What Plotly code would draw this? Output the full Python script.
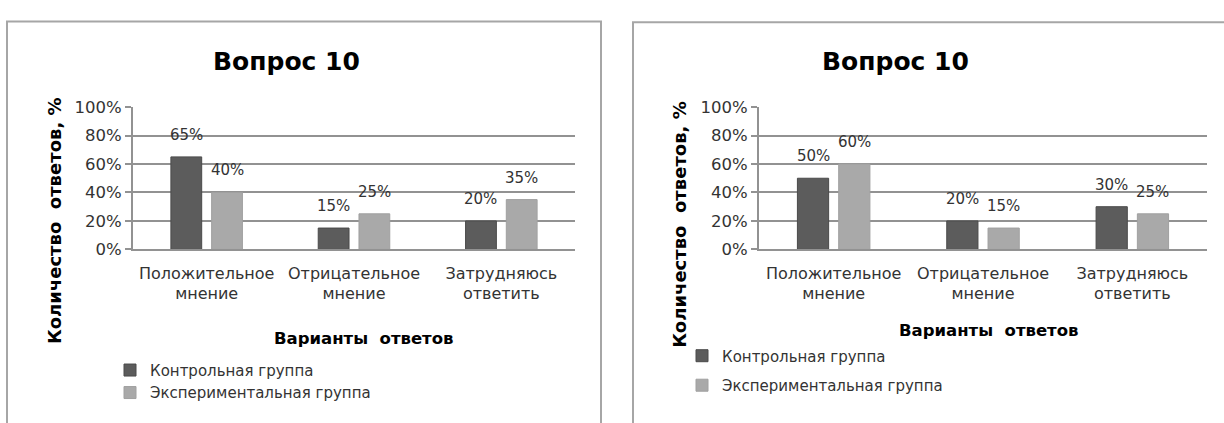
import plotly.graph_objects as go

# ---------------- data ----------------
categories = ["Положительное<br>мнение", "Отрицательное<br>мнение", "Затрудняюсь<br>ответить"]
series_names = ["Контрольная группа", "Экспериментальная группа"]
left_control = [65, 15, 20]
left_experimental = [40, 25, 35]
right_control = [50, 20, 30]
right_experimental = [60, 15, 25]
tick_values = [0, 20, 40, 60, 80, 100]
tick_labels = ["0%", "20%", "40%", "60%", "80%", "100%"]
chart_title = "Вопрос 10"
x_title = "Варианты\u00a0 ответов"
y_title = "Количество\u00a0 ответов, %"

# ---------------- styling ----------------
W, H = 1224, 423
def px(x):
    return x / W
def py(y):
    return 1 - y / H

DARK = "#5c5c5c"
GRID = "#929292"
TXT = "#333333"
FONT = "DejaVu Sans"
BARGAP = 0.447
BARGROUPGAP = 0.244

panels = [
    dict(xa="x", ya="y", x0=133, x1=575, values=[left_control, left_experimental],
         legend="legend", title_xy=(286, 55), ytitle_xy=(54, 222), xtitle_xy=(363, 345),
         frame=(7, 13, 601, 440)),
    dict(xa="x2", ya="y2", x0=759, x1=1207, values=[right_control, right_experimental],
         legend="legend2", title_xy=(895, 55), ytitle_xy=(680, 226), xtitle_xy=(988, 337),
         frame=(633, 14, 1240, 440)),
]
colors = [DARK, "#a9a9a9"]
edge = ["#4a4a4a", "#a0a0a0"]

fig = go.Figure()
annotations = []
shapes = []
for p_i, p in enumerate(panels):
    for s_i, vals in enumerate(p["values"]):
        fig.add_trace(go.Bar(
            x=categories, y=vals, name=series_names[s_i],
            xaxis=p["xa"], yaxis=p["ya"],
            marker=dict(color=colors[s_i], line=dict(color=edge[s_i], width=1)),
            legend=p["legend"], legendgroup=f"{p_i}-{s_i}",
            hoverinfo="x+y",
        ))
    cat_px = (p["x1"] - p["x0"]) / len(categories)
    slot = cat_px * (1 - BARGAP) / 2
    for s_i, vals in enumerate(p["values"]):
        for c, v in zip(categories, vals):
            annotations.append(dict(
                x=c, y=v, xref=p["xa"], yref=p["ya"], text=f"{v}%",
                showarrow=False, xshift=(s_i - 0.5) * slot, yshift=22,
                yanchor="middle", xanchor="center",
                font=dict(family=FONT, size=15, color=TXT)))
    tx, ty = p["title_xy"]
    annotations.append(dict(x=px(tx), y=py(ty), xref="paper", yref="paper",
                            text=f"<b>{chart_title}</b>", showarrow=False,
                            xanchor="center", yanchor="middle",
                            font=dict(family=FONT, size=25, color="#000000")))
    yx, yy = p["ytitle_xy"]
    annotations.append(dict(x=px(yx), y=py(yy), xref="paper", yref="paper",
                            text=f"<b>{y_title}</b>", showarrow=False, textangle=-90,
                            xanchor="center", yanchor="middle",
                            font=dict(family=FONT, size=18, color="#000000")))
    xx, xy = p["xtitle_xy"]
    annotations.append(dict(x=px(xx), y=py(xy), xref="paper", yref="paper",
                            text=f"<b>{x_title}</b>", showarrow=False,
                            xanchor="center", yanchor="middle",
                            font=dict(family=FONT, size=16.5, color="#000000")))
    fx0, fy0, fx1, fy1 = p["frame"]
    shapes.append(dict(type="rect", xref="paper", yref="paper",
                       x0=px(fx0), x1=px(fx1), y0=py(fy1), y1=py(fy0),
                       line=dict(color="#a6a6a6", width=2), fillcolor="rgba(0,0,0,0)",
                       layer="below"))

yaxis_common = dict(range=[0, 100], tickvals=tick_values, ticktext=tick_labels,
                    showgrid=True, gridcolor=GRID, gridwidth=2,
                    showline=True, linecolor=GRID, linewidth=2,
                    ticks="outside", ticklen=6, tickcolor=GRID, tickwidth=2,
                    tickfont=dict(family=FONT, size=16.5, color=TXT),
                    zeroline=False, fixedrange=True)
xaxis_common = dict(showline=True, linecolor=GRID, linewidth=2, showgrid=False,
                    ticks="", tickfont=dict(family=FONT, size=16, color=TXT),
                    ticklabelstandoff=8, fixedrange=True)

y_dom = [py(251.7), py(102.7)]
fig.update_layout(
    width=W, height=H,
    margin=dict(l=0, r=0, t=0, b=0),
    paper_bgcolor="white", plot_bgcolor="white",
    barmode="group", bargap=BARGAP, bargroupgap=BARGROUPGAP,
    xaxis=dict(domain=[px(133), px(575)], anchor="y", **xaxis_common),
    yaxis=dict(domain=y_dom, anchor="x", **yaxis_common),
    xaxis2=dict(domain=[px(759), px(1207)], anchor="y2", **xaxis_common),
    yaxis2=dict(domain=y_dom, anchor="x2", **yaxis_common),
    legend=dict(x=px(110), y=py(361), xanchor="left", yanchor="top",
                font=dict(family=FONT, size=15, color=TXT), tracegroupgap=0,
                bgcolor="rgba(0,0,0,0)"),
    legend2=dict(x=px(682), y=py(346), xanchor="left", yanchor="top",
                 font=dict(family=FONT, size=15, color=TXT), tracegroupgap=7,
                 bgcolor="rgba(0,0,0,0)"),
    annotations=annotations,
    shapes=shapes,
    showlegend=True,
)

fig.write_html(
    "out.html",
    config={"displayModeBar": False},
    post_script="document.body.style.margin='0';document.body.style.overflow='hidden';",
)
